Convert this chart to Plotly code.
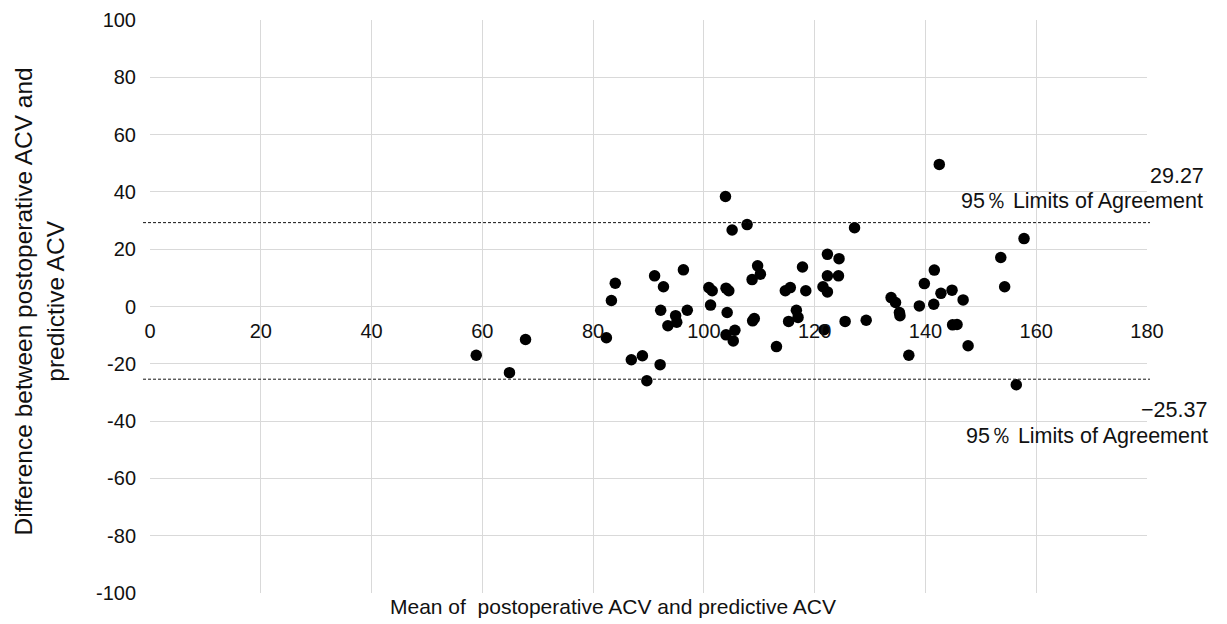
import plotly.graph_objects as go

mean_acv = [58.9, 64.9, 67.8, 82.4, 83.3, 84.0, 86.9, 88.9, 89.7, 91.1, 92.1, 92.2, 92.7, 93.5,
            94.9, 95.1, 96.3, 97.0, 100.9, 101.5, 101.2, 103.9, 104.0, 104.5, 104.2, 104.0,
            105.6, 105.3, 105.1, 107.8, 109.7, 110.2, 108.7, 108.8, 109.1, 113.1, 114.7, 115.6,
            115.3, 116.7, 117.0, 117.8, 118.4, 121.5, 122.3, 121.7, 122.3, 124.4, 122.3, 124.3,
            125.5, 127.2, 129.3, 133.8, 134.6, 135.3, 135.4, 137.0, 138.9, 139.8, 141.5, 141.6,
            142.5, 142.8, 144.8, 144.9, 145.7, 146.8, 147.7, 153.6, 154.3, 156.4, 157.8]
diff_acv = [-17.0, -23.1, -11.5, -10.9, 2.1, 8.1, -18.6, -17.2, -25.9, 10.7, -20.3, -1.3, 6.9, -6.7,
            -3.2, -5.5, 12.8, -1.3, 6.6, 5.5, 0.5, 38.4, 6.4, 5.5, -2.1, -9.9,
            -8.3, -12.0, 26.7, 28.6, 14.2, 11.3, 9.4, -5.0, -4.2, -14.0, 5.5, 6.6,
            -5.2, -1.3, -3.8, 13.8, 5.5, 6.9, 5.1, -8.1, 18.2, 16.7, 10.7, 10.7,
            -5.2, 27.5, -4.8, 3.1, 1.4, -2.1, -3.2, -17.0, 0.2, 8.0, 0.8, 12.7,
            49.6, 4.6, 5.7, -6.4, -6.3, 2.3, -13.7, 17.1, 6.9, -27.3, 23.7]

upper_loa = 29.27
lower_loa = -25.37
x_range = [0, 180]
y_range = [-100, 100]
x_ticks = [0, 20, 40, 60, 80, 100, 120, 140, 160, 180]
y_ticks = [-100, -80, -60, -40, -20, 0, 20, 40, 60, 80, 100]
y_tick_labels = [str(v) for v in y_ticks]
x_tick_labels = [str(v) for v in x_ticks]

FONT = "Liberation Sans, Arial, sans-serif"
GRID = "#d9d9d9"

fig = go.Figure()
fig.add_trace(go.Scatter(
    x=mean_acv, y=diff_acv, mode="markers",
    marker=dict(color="black", size=11.5, line=dict(width=0)),
    showlegend=False, cliponaxis=False,
))

for v in (upper_loa, lower_loa):
    fig.add_shape(type="line", xref="paper", yref="y", x0=-0.007, x1=1.003, y0=v, y1=v,
                  line=dict(color="#111111", width=1, dash="3px,2px"))

xpos = (0 - y_range[0]) / (y_range[1] - y_range[0])

fig.update_layout(
    width=1219, height=616,
    margin=dict(l=142, r=80, t=12, b=31, autoexpand=False),
    paper_bgcolor="white", plot_bgcolor="white",
    font=dict(family=FONT, size=20, color="#111111"),
    xaxis=dict(range=x_range, tickvals=x_ticks, ticktext=x_tick_labels, showgrid=True,
               gridcolor=GRID, gridwidth=1, zeroline=False, showline=False, automargin=False,
               anchor="free", position=xpos, ticklabelstandoff=10, tickfont=dict(size=20),
               ticklabeloverflow="allow"),
    yaxis=dict(range=y_range, tickvals=y_ticks, ticktext=y_tick_labels, showgrid=True,
               gridcolor=GRID, gridwidth=1, zeroline=False, showline=False, automargin=False,
               ticklabelstandoff=13, tickfont=dict(size=20), ticklabeloverflow="allow"),
)

lab = dict(size=21.5)
ann = [
    dict(text="Mean of  postoperative ACV and predictive ACV", x=0.4644, y=-0.0243,
         xanchor="center", yanchor="middle", font=dict(size=21)),
    dict(text="Difference between postoperative ACV and<br>predictive ACV", x=-0.1113, y=0.509,
         xanchor="center", yanchor="middle", textangle=-90, font=dict(size=24.5)),
    dict(text=f"{upper_loa:.2f}", x=1.059, y=0.728, xanchor="right", yanchor="middle", font=lab),
    dict(text="95％ Limits of Agreement", x=1.058, y=0.684, xanchor="right", yanchor="middle", font=lab),
    dict(text=f"\u2212{abs(lower_loa):.2f}", x=1.0625, y=0.319, xanchor="right", yanchor="middle", font=lab),
    dict(text="95％ Limits of Agreement", x=1.063, y=0.274, xanchor="right", yanchor="middle", font=lab),
]
for a in ann:
    a.update(xref="paper", yref="paper", showarrow=False)
    fig.add_annotation(**a)

fig.write_html("out.html")
